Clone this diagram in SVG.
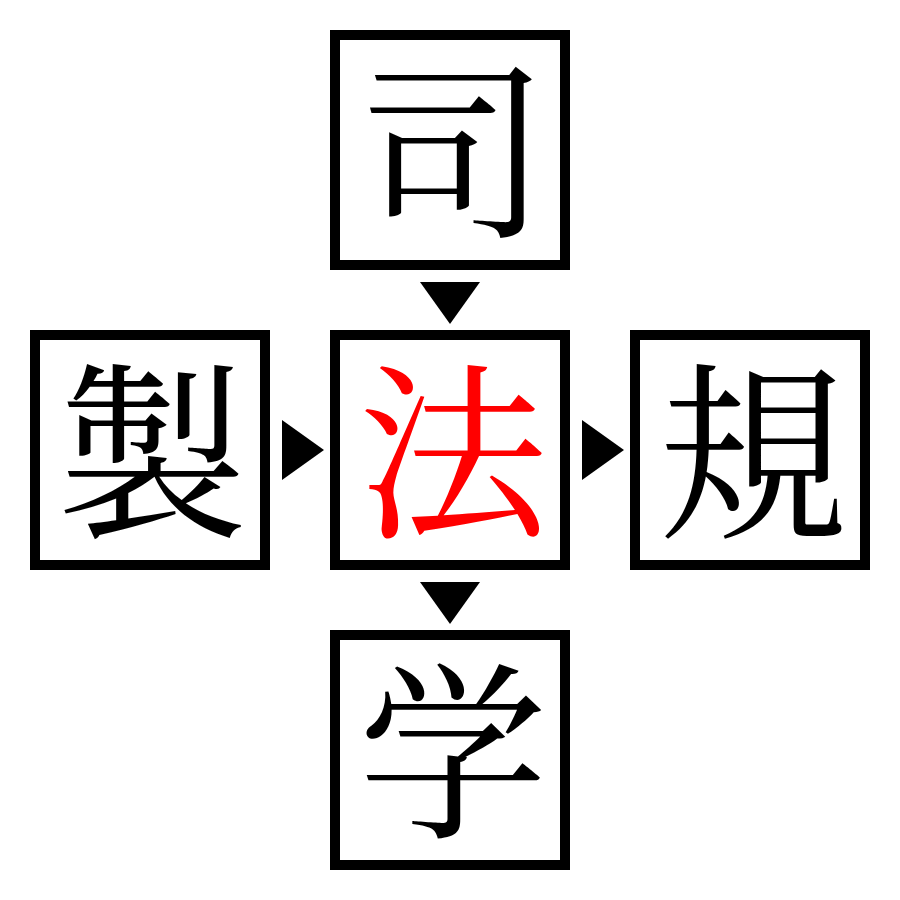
<svg xmlns="http://www.w3.org/2000/svg" width="900" height="900" viewBox="0 0 900 900">
<style>
.box{fill:#fff;stroke:#000;stroke-width:10}
.ch{font-family:"Noto Serif CJK JP","Noto Sans CJK JP",serif;font-size:190px;text-anchor:middle;dominant-baseline:central;fill:#000}
.red{fill:#ff0000}
.arr{fill:#000}
</style>
<rect width="900" height="900" fill="#fff"/>
<g id="connectors">
<polygon class="arr" points="420,282 480,282 450,324"/>
<polygon class="arr" points="420,582 480,582 450,624"/>
<polygon class="arr" points="282,420 282,480 324,450"/>
<polygon class="arr" points="582,420 582,480 624,450"/>
</g>
<g id="node-top"><rect class="box" x="335" y="35" width="230" height="230"/><text class="ch" x="453" y="140">司</text></g>
<g id="node-left"><rect class="box" x="35" y="335" width="230" height="230"/><text class="ch" x="153" y="440">製</text></g>
<g id="node-center"><rect class="box" x="335" y="335" width="230" height="230"/><text class="ch red" x="453" y="440">法</text></g>
<g id="node-right"><rect class="box" x="635" y="335" width="230" height="230"/><text class="ch" x="753" y="440">規</text></g>
<g id="node-bottom"><rect class="box" x="335" y="635" width="230" height="230"/><text class="ch" x="453" y="740">学</text></g>
</svg>
